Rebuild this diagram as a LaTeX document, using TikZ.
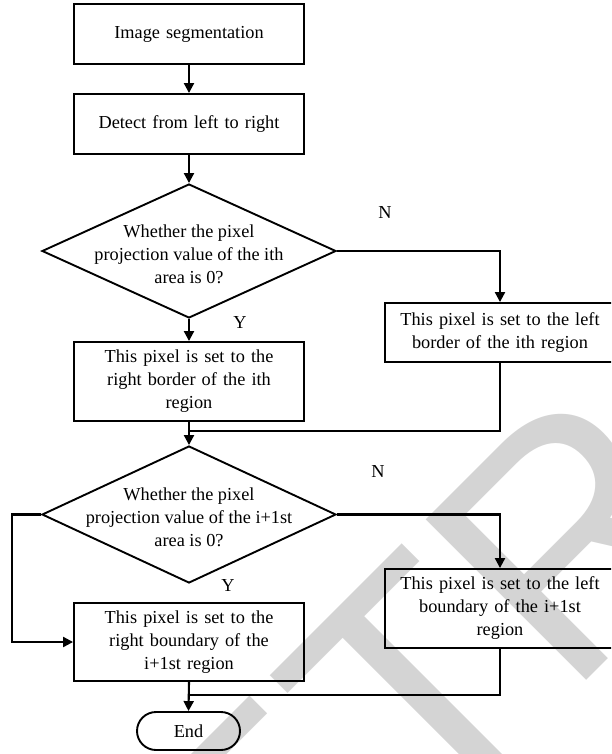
\documentclass[tikz,border=0pt]{standalone}
\usepackage{fontspec}
\setmainfont{Liberation Serif}
\newfontfamily\wmfont{Liberation Sans}
\usetikzlibrary{shapes.geometric,arrows.meta}
\definecolor{wmgray}{RGB}{212,212,212}
\begin{document}
\begin{tikzpicture}[x=1pt,y=-1pt,
  every node/.style={font=\fontsize{18.3}{23}\selectfont},
  box/.style={draw, line width=1.9pt, minimum width=230pt, inner sep=0pt, align=center, text width=225pt},
  dia/.style={draw, diamond, line width=1.9pt, minimum width=294pt, inner sep=0pt},
  arr/.style={line width=2.1pt, -{Triangle[length=10pt,width=10pt]}},
  ln/.style={line width=1.9pt},
  lab/.style={inner sep=0pt},
  wmark/.style={text=wmgray, inner sep=0pt, font=\wmfont\fontsize{330}{330}\selectfont}]
\useasboundingbox (0,0) rectangle (611,754);
\clip (0,0) rectangle (611,754);
% watermark
\node[wmark, anchor=base west, rotate=45] (wm) at (101,1166) {RETRACTED};
% nodes
\node[box, minimum height=60pt] (b1) at (189,34) {Image segmentation};
\node[box, minimum height=60pt] (b2) at (189,124) {Detect from left to right};
\node[dia, minimum height=134pt] (d1) at (189,251) {};
\node[align=center, inner sep=0pt] (d1t) at (189,254) {Whether the pixel\\projection value of the ith\\area is 0?};
\node[box, minimum height=59pt] (r1) at (500,332.5) {This pixel is set to the left\\border of the ith region};
\node[box, minimum height=79pt] (l1) at (189,381.5) {This pixel is set to the\\right border of the ith\\region};
\node[dia, minimum height=137pt] (d2) at (189,514.5) {};
\node[align=center, inner sep=0pt] (d2t) at (189,517) {Whether the pixel\\projection value of the i+1st\\area is 0?};
\node[box, minimum height=79pt] (r2) at (500,608.5) {This pixel is set to the left\\boundary of the i+1st\\region};
\node[box, minimum height=78pt] (l2) at (189,642) {This pixel is set to the\\right boundary of the\\i+1st region};
\node[draw, line width=1.9pt, rounded corners=19pt, minimum width=103pt, minimum height=38pt, inner sep=0pt] (end) at (188.5,731) {End};
% labels
\node[lab] (n1) at (385,213) {N};
\node[lab] (y1) at (240,323) {Y};
\node[lab] (n2) at (378,472) {N};
\node[lab] (y2) at (228,586) {Y};
% connectors
\coordinate (m1) at (189,431);
\coordinate (m2) at (189,695);
\coordinate (lft) at (12,514.5);
\draw[arr] (b1) -- (b2);
\draw[arr] (b2) -- (d1);
\draw[arr] (d1.east) -| (r1.north);
\draw[arr] (d1.south) -- (l1.north);
\draw[arr] (l1.south) -- (d2.north);
\draw[ln] (r1.south) |- (m1);
\draw[arr] (d2.east) -| (r2.north);
\draw[arr] (d2.west) -- (lft) |- (l2.west);
\draw[arr] (l2.south) -- (end.north);
\draw[ln] (r2.south) |- (m2);
\end{tikzpicture}
\end{document}
